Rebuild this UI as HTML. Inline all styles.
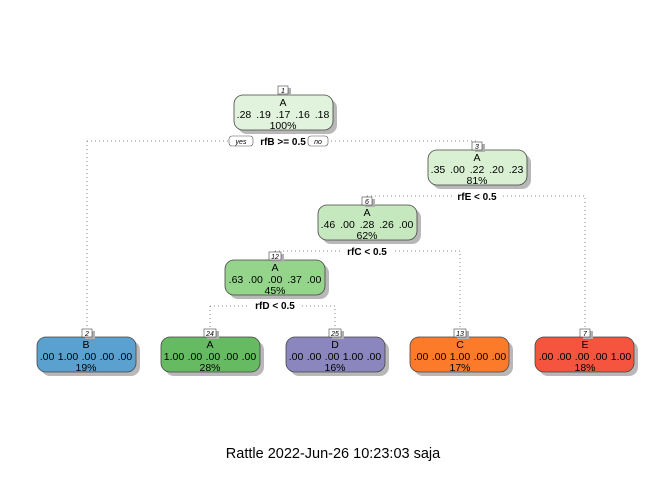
<!DOCTYPE html>
<html><head><meta charset="utf-8"><style>
html,body{margin:0;padding:0;background:#fff;}
svg{display:block;font-family:"Liberation Sans",sans-serif;}
.n{font-size:10.5px;text-anchor:middle;fill:#000;}
.w{word-spacing:2px;}
.v{word-spacing:0.5px;}
.s{font-size:10px;font-weight:bold;text-anchor:middle;fill:#000;}
.id{font-size:7px;font-style:italic;text-anchor:middle;fill:#000;}
.d{stroke:#888;stroke-width:1;stroke-dasharray:1,3;fill:none;}
</style></head><body>
<svg width="672" height="480" viewBox="0 0 672 480">
<path class="d" d="M87 141 H477 V150"/>
<path class="d" d="M87 141 V329"/>
<path class="d" d="M367 196 H585 V329"/>
<path class="d" d="M367 196 V199"/>
<path class="d" d="M275 251 H460 V329"/>
<path class="d" d="M275 251 V253"/>
<path class="d" d="M210 306 H335 V329"/>
<path class="d" d="M210 306 V329"/>

<rect x="252" y="135" width="62" height="12" fill="#fff"/>
<text class="s" x="283" y="145">rfB &gt;= 0.5</text>
<rect x="229" y="136" width="24" height="10" rx="3" fill="#fff" stroke="#555" stroke-width="0.6"/>
<text class="id" x="241" y="144">yes</text>
<rect x="308" y="136" width="20" height="10" rx="3" fill="#fff" stroke="#555" stroke-width="0.6"/>
<text class="id" x="318" y="144">no</text>
<rect x="452" y="190" width="50" height="12" fill="#fff"/>
<text class="s" x="477" y="200">rfE &lt; 0.5</text>
<rect x="342" y="245" width="50" height="12" fill="#fff"/>
<text class="s" x="367" y="255">rfC &lt; 0.5</text>
<rect x="250" y="300" width="50" height="12" fill="#fff"/>
<text class="s" x="275" y="309">rfD &lt; 0.5</text>

<g>
<rect x="238" y="99" width="99" height="35" rx="9" fill="#b8b8b8"/>
<rect x="234" y="95" width="99" height="35" rx="9" fill="#e1f3dc" stroke="#444" stroke-width="0.8"/>
<rect x="281" y="88" width="10" height="8" fill="#b0b0b0"/><rect x="278" y="86" width="10" height="8" fill="#fff" stroke="#444" stroke-width="0.6"/>
<text class="id" x="283" y="93">1</text>
<text class="n" x="283" y="106">A</text><text class="n w" x="283" y="118">.28 .19 .17 .16 .18</text><text class="n" x="283" y="129">100%</text>

<rect x="432" y="154" width="99" height="35" rx="9" fill="#b8b8b8"/>
<rect x="428" y="150" width="99" height="35" rx="9" fill="#d9f0d3" stroke="#444" stroke-width="0.8"/>
<rect x="475" y="144" width="10" height="8" fill="#b0b0b0"/><rect x="472" y="142" width="10" height="8" fill="#fff" stroke="#444" stroke-width="0.6"/>
<text class="id" x="477" y="149">3</text>
<text class="n" x="477" y="161">A</text><text class="n w" x="477" y="173">.35 .00 .22 .20 .23</text><text class="n" x="477" y="184">81%</text>

<rect x="322" y="209" width="99" height="35" rx="9" fill="#b8b8b8"/>
<rect x="318" y="205" width="99" height="35" rx="9" fill="#c6e8bf" stroke="#444" stroke-width="0.8"/>
<rect x="365" y="199" width="10" height="8" fill="#b0b0b0"/><rect x="362" y="197" width="10" height="8" fill="#fff" stroke="#444" stroke-width="0.6"/>
<text class="id" x="367" y="204">6</text>
<text class="n" x="367" y="216">A</text><text class="n w" x="367" y="228">.46 .00 .28 .26 .00</text><text class="n" x="367" y="239">62%</text>

<rect x="229" y="264" width="100" height="35" rx="9" fill="#b8b8b8"/>
<rect x="225" y="260" width="100" height="35" rx="9" fill="#94d48b" stroke="#444" stroke-width="0.8"/>
<rect x="272" y="254" width="12" height="8" fill="#b0b0b0"/><rect x="269" y="252" width="12" height="8" fill="#fff" stroke="#444" stroke-width="0.6"/>
<text class="id" x="275" y="259">12</text>
<text class="n" x="275" y="271">A</text><text class="n w" x="275" y="283">.63 .00 .00 .37 .00</text><text class="n" x="275" y="294">45%</text>

<rect x="41" y="341" width="99" height="35" rx="9" fill="#b8b8b8"/>
<rect x="37" y="337" width="99" height="35" rx="9" fill="#5ba1d0" stroke="#444" stroke-width="0.8"/>
<rect x="85" y="331" width="10" height="8" fill="#b0b0b0"/><rect x="82" y="329" width="10" height="8" fill="#fff" stroke="#444" stroke-width="0.6"/>
<text class="id" x="87" y="336">2</text>
<text class="n" x="86" y="348">B</text><text class="n v" x="86" y="360">.00 1.00 .00 .00 .00</text><text class="n" x="86" y="371">19%</text>

<rect x="165" y="341" width="99" height="35" rx="9" fill="#b8b8b8"/>
<rect x="161" y="337" width="99" height="35" rx="9" fill="#66bb62" stroke="#444" stroke-width="0.8"/>
<rect x="207" y="331" width="12" height="8" fill="#b0b0b0"/><rect x="204" y="329" width="12" height="8" fill="#fff" stroke="#444" stroke-width="0.6"/>
<text class="id" x="210" y="336">24</text>
<text class="n" x="210" y="348">A</text><text class="n v" x="210" y="360">1.00 .00 .00 .00 .00</text><text class="n" x="210" y="371">28%</text>

<rect x="290" y="341" width="99" height="35" rx="9" fill="#b8b8b8"/>
<rect x="286" y="337" width="99" height="35" rx="9" fill="#8b86bd" stroke="#444" stroke-width="0.8"/>
<rect x="332" y="331" width="12" height="8" fill="#b0b0b0"/><rect x="329" y="329" width="12" height="8" fill="#fff" stroke="#444" stroke-width="0.6"/>
<text class="id" x="335" y="336">25</text>
<text class="n" x="335" y="348">D</text><text class="n v" x="335" y="360">.00 .00 .00 1.00 .00</text><text class="n" x="335" y="371">16%</text>

<rect x="414" y="341" width="99" height="35" rx="9" fill="#b8b8b8"/>
<rect x="410" y="337" width="99" height="35" rx="9" fill="#fc7b2b" stroke="#444" stroke-width="0.8"/>
<rect x="457" y="331" width="12" height="8" fill="#b0b0b0"/><rect x="454" y="329" width="12" height="8" fill="#fff" stroke="#444" stroke-width="0.6"/>
<text class="id" x="460" y="336">13</text>
<text class="n" x="460" y="348">C</text><text class="n v" x="460" y="360">.00 .00 1.00 .00 .00</text><text class="n" x="460" y="371">17%</text>

<rect x="539" y="341" width="99" height="35" rx="9" fill="#b8b8b8"/>
<rect x="535" y="337" width="99" height="35" rx="9" fill="#f5553e" stroke="#444" stroke-width="0.8"/>
<rect x="583" y="331" width="10" height="8" fill="#b0b0b0"/><rect x="580" y="329" width="10" height="8" fill="#fff" stroke="#444" stroke-width="0.6"/>
<text class="id" x="585" y="336">7</text>
<text class="n" x="585" y="348">E</text><text class="n v" x="585" y="360">.00 .00 .00 .00 1.00</text><text class="n" x="585" y="371">18%</text>
</g>

<text x="333" y="458" font-size="14.5" text-anchor="middle" fill="#000">Rattle 2022-Jun-26 10:23:03 saja</text>
</svg>
</body></html>
